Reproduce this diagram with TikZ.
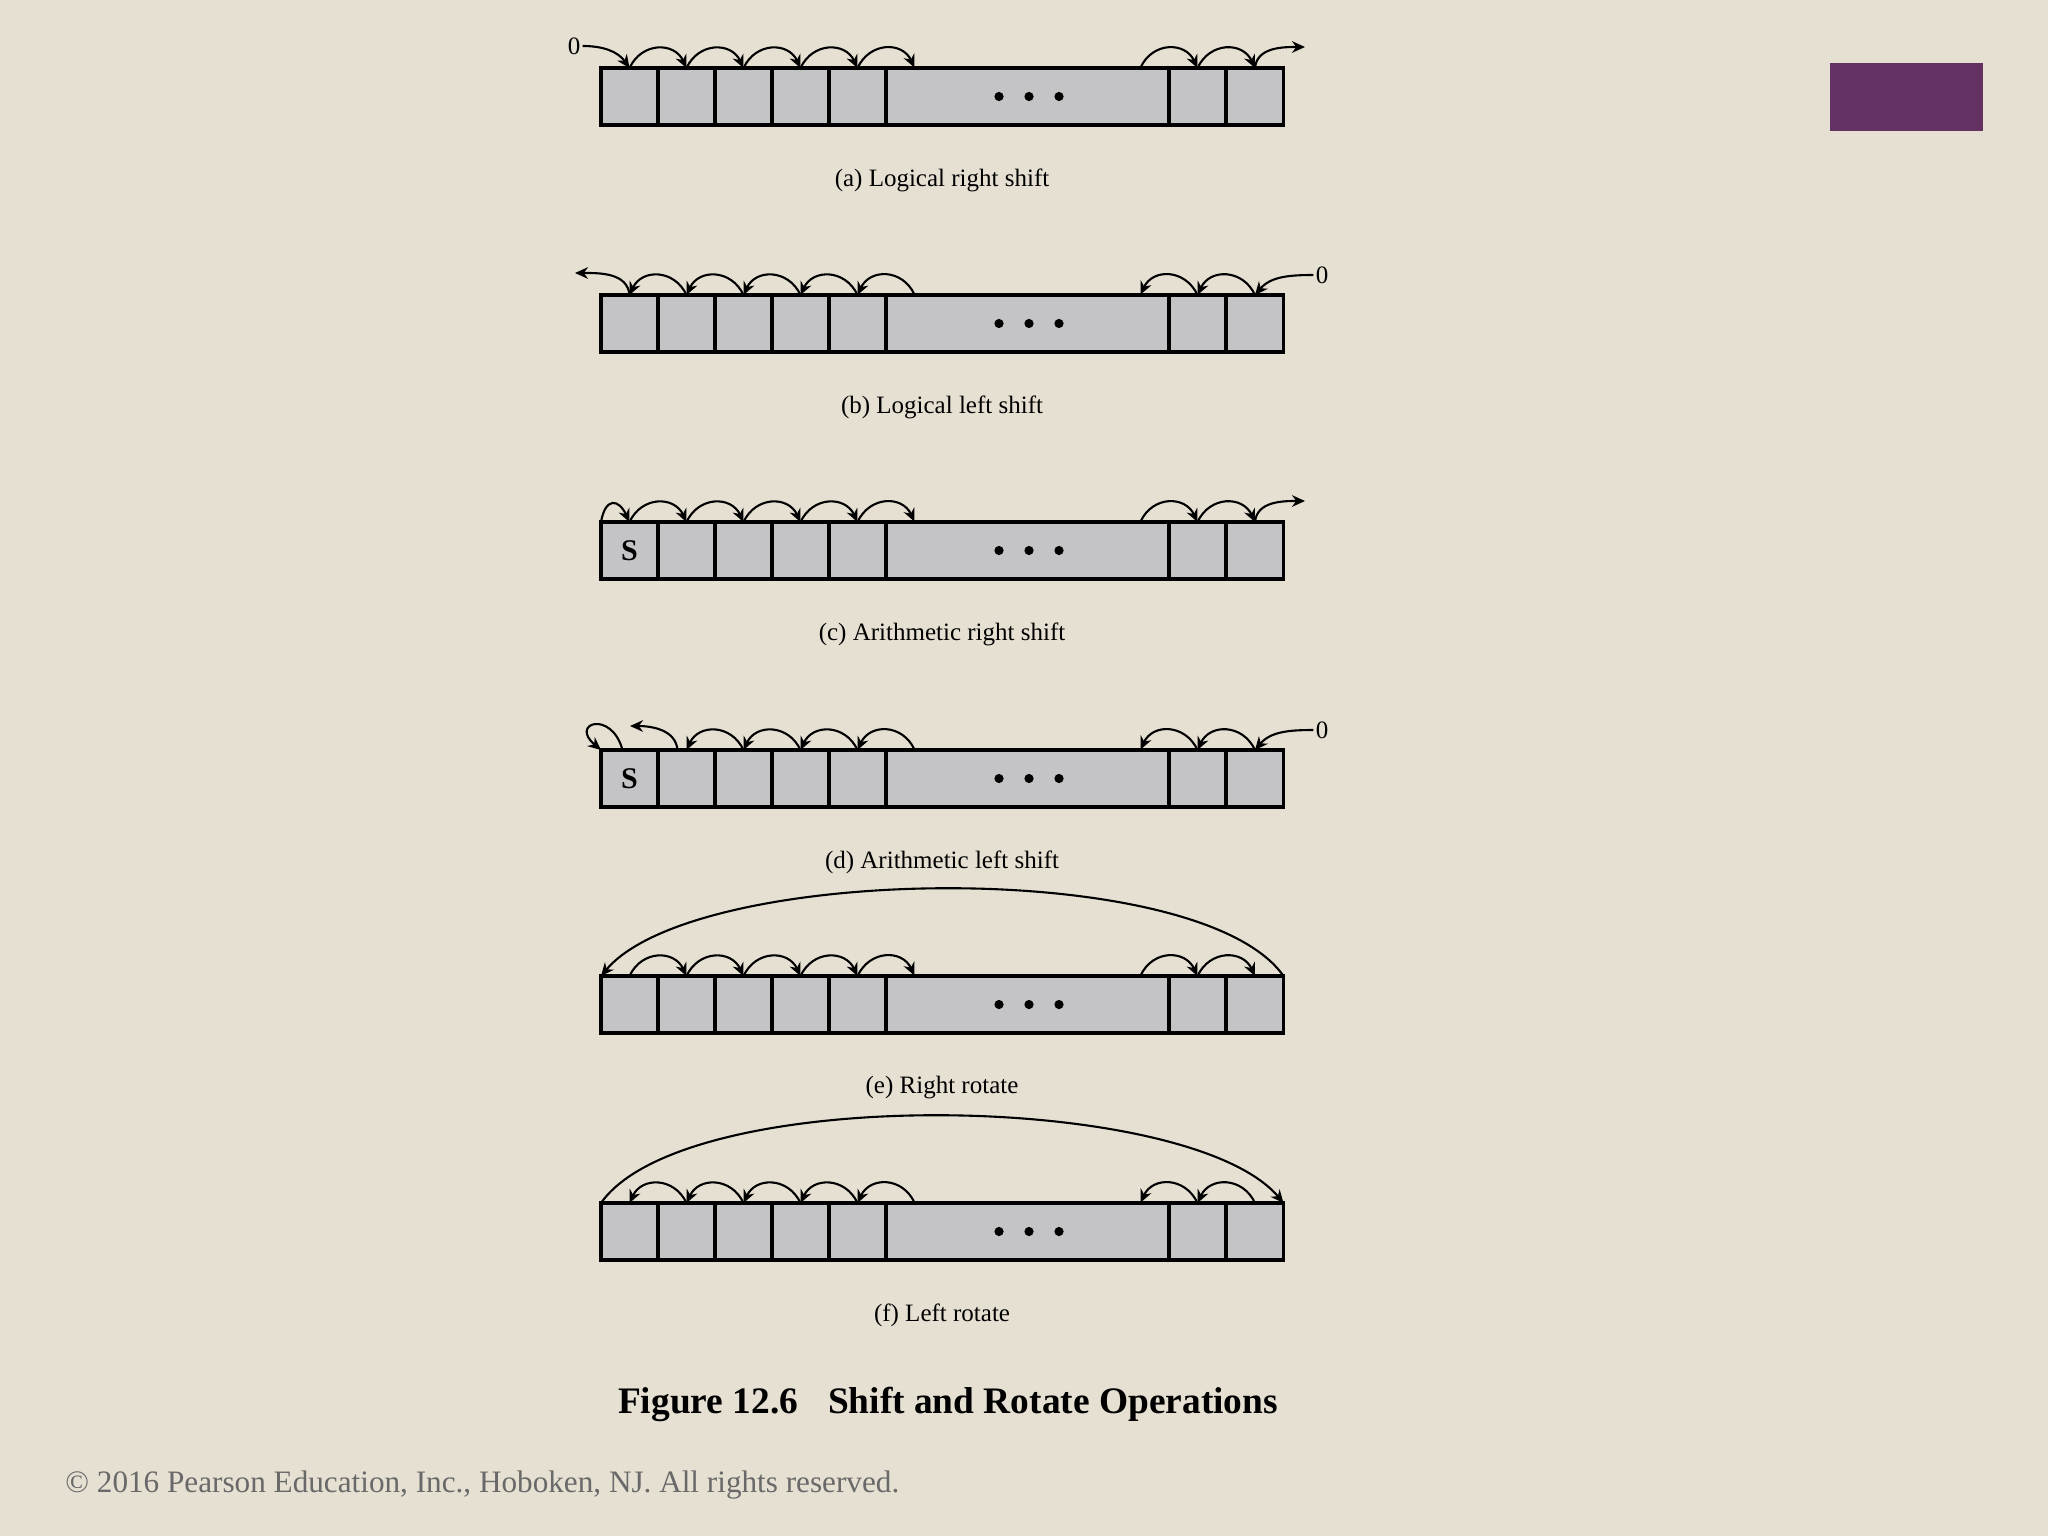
\documentclass[tikz,border=0pt]{standalone}
\usepackage{fontspec}
\setmainfont{Liberation Serif}
\usetikzlibrary{arrows.meta}

\definecolor{paper}{RGB}{229,224,210}
\definecolor{cellgray}{RGB}{196,196,198}
\definecolor{plum}{RGB}{99,50,99}
\definecolor{notegray}{RGB}{105,105,105}

\tikzset{
  cell/.style={draw, line width=1.9pt, fill=cellgray, minimum width=28.5pt, minimum height=28.5pt,
    inner sep=0pt, outer sep=0pt, font=\bfseries\fontsize{15}{15}\selectfont},
  spot/.style={inner sep=0pt, minimum size=0pt},
  hop/.style={line width=1.05pt, -{Stealth[length=6.5pt,width=5.8pt]}},
  rhop/.style={out=65, in=115, looseness=1.3},
  lhop/.style={out=115, in=65, looseness=1.3},
  captext/.style={font=\fontsize{12.5}{12.5}\selectfont},
  zero/.style={inner sep=1pt, font=\fontsize{12.5}{12.5}\selectfont}
}

% one register: name, top edge, first cell text, caption
\newcommand{\register}[4]{%
  \node[cell] (#11) at (629.5,#2+28.5) {#3};
  \foreach \i in {2,...,5}
    \node[cell] (#1\i) at ({629.5+57*(\i-1)},#2+28.5) {};
  \node[cell, minimum width=141.5pt] (#1b) at (1027.5,#2+28.5) {};
  \node[cell] (#1m) at (1197.5,#2+28.5) {};
  \node[cell] (#1n) at (1255,#2+28.5) {};
  \node[spot] (#1p) at (914.5,#2) {};
  \node[spot] (#1q) at (1140.5,#2) {};
  \foreach \d in {-30,0,30}
    \fill (1029+\d,#2+28.5) circle (2.3pt);
  \node[captext] (#1cap) at (942,#2+112) {#4};
}

\begin{document}
\begin{tikzpicture}[x=0.5pt, y=-0.5pt]
\fill[paper] (0,0) rectangle (2048,1536);
\useasboundingbox (0,0) rectangle (2048,1536);
\fill[plum] (1830,63) rectangle (1983,131);

\register{a}{68}{}{(a) Logical right shift}
\register{b}{295}{}{(b) Logical left shift}
\register{c}{522}{S}{(c) Arithmetic right shift}
\register{d}{750}{S}{(d) Arithmetic left shift}
\register{e}{976}{}{(e) Right rotate}
\register{f}{1203}{}{(f) Left rotate}

% bit moves
\foreach \r in {a,c,e}
  \foreach \s/\t in {1/2,2/3,3/4,4/5,5/p,q/m,m/n}
    \draw[hop] (\r\s.north) to[rhop] (\r\t.north);
\foreach \r in {b,f}
  \foreach \s/\t in {2/1,3/2,4/3,5/4,p/5,m/q,n/m}
    \draw[hop] (\r\s.north) to[lhop] (\r\t.north);
\foreach \s/\t in {3/2,4/3,5/4,p/5,m/q,n/m}
  \draw[hop] (d\s.north) to[lhop] (d\t.north);

% (a)
\node[zero] (za) at (574,46) {0};
\coordinate (aout) at (1305,47);
\draw[hop] (za.east) to[out=0, in=125] (a1.north);
\draw[hop] (an.north) to[out=85, in=180] (aout);

% (b)
\node[zero] (zb) at (1322,275) {0};
\coordinate (bout) at (575,273);
\draw[hop] (zb.west) to[out=180, in=50] (bn.north);
\draw[hop] (b1.north) to[out=95, in=0] (bout);

% (c)
\coordinate (cout) at (1305,501);
\draw[hop] (c1.north west) to[out=80, in=115, looseness=2.3] (c1.north);
\draw[hop] (cn.north) to[out=85, in=180] (cout);

% (d)
\node[zero] (zd) at (1322,730) {0};
\coordinate (dout) at (630,726);
\draw[hop] ([xshift=-3.5pt]d1.north) to[out=105, in=140, looseness=5] (d1.north west);
\draw[hop] ([xshift=-4.5pt]d2.north) to[out=95, in=0] (dout);
\draw[hop] (zd.west) to[out=180, in=50] (dn.north);

% rotates
\draw[hop] (en.north east) to[out=125, in=50, looseness=0.55] (e1.north west);
\draw[hop] (f1.north west) to[out=55, in=130, looseness=0.55] (fn.north east);

\node[font=\bfseries\fontsize{18.7}{18.7}\selectfont] (title) at (948,1404)
  {Figure 12.6\hspace{0.8em}Shift and Rotate Operations};
\node[anchor=west, inner sep=0pt, text=notegray, font=\fontsize{15.6}{15.6}\selectfont] (note) at (65,1485)
  {© 2016 Pearson Education, Inc., Hoboken, NJ. All rights reserved.};
\end{tikzpicture}
\end{document}
